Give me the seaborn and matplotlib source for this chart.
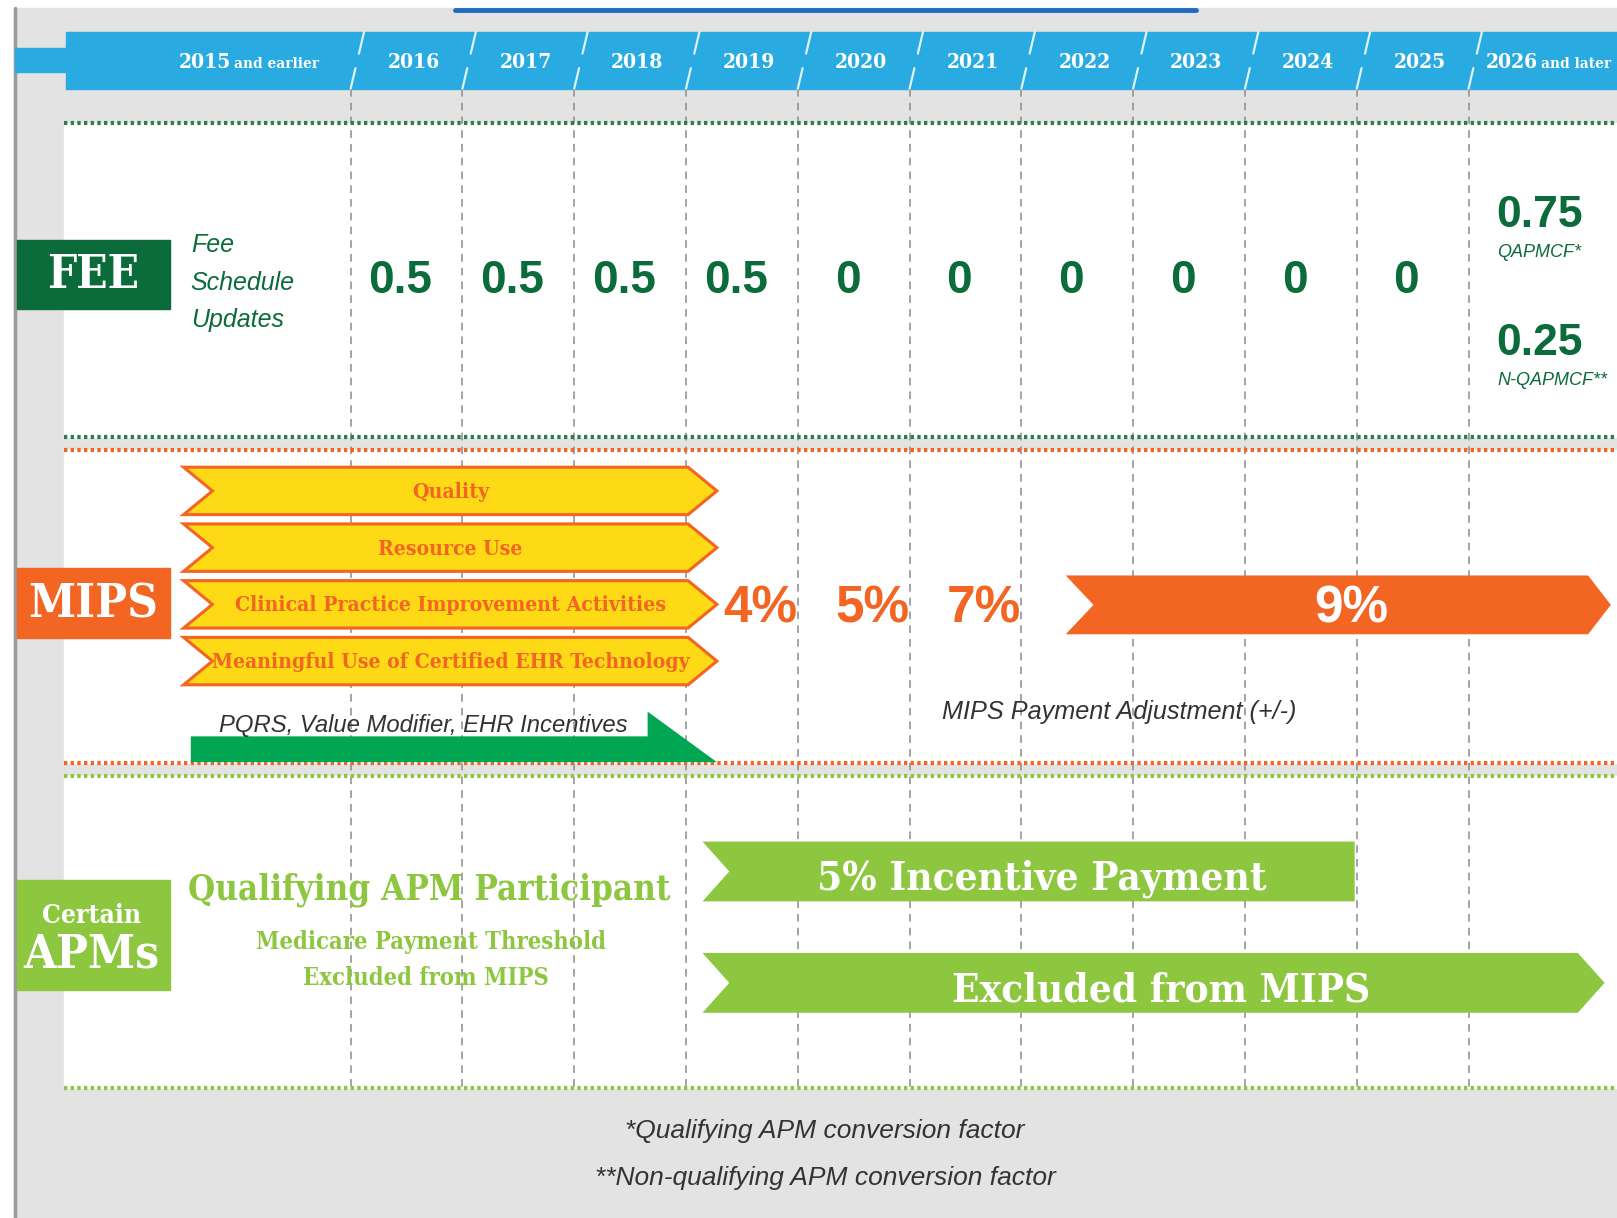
import matplotlib
matplotlib.use('Agg')
import matplotlib.pyplot as plt
from matplotlib import font_manager
from matplotlib.patches import Polygon, Rectangle
import seaborn as sns

years = ['2015', '2016', '2017', '2018', '2019', '2020', '2021', '2022', '2023', '2024', '2025', '2026']
year_suffix = {'2015': 'and earlier', '2026': 'and later'}
fee_values = [0.5, 0.5, 0.5, 0.5, 0, 0, 0, 0, 0, 0]          # 2016 .. 2025
fee_2026 = [0.75, 0.25]
fee_2026_notes = ['QAPMCF*', 'N-QAPMCF**']
mips_categories = ['Quality', 'Resource Use', 'Clinical Practice Improvement Activities',
                   'Meaningful Use of Certified EHR Technology']
mips_years = ['2019', '2020', '2021']
mips_pct = [4, 5, 7]
mips_max_pct = 9
legacy_label = 'PQRS, Value Modifier, EHR Incentives'
apm_lines = ['Qualifying APM Participant', 'Medicare Payment Threshold', 'Excluded from MIPS']
apm_incentive = '5% Incentive Payment'
apm_excluded = 'Excluded from MIPS'
footnotes = ['*Qualifying APM conversion factor', '**Non-qualifying APM conversion factor']

# colours
BLUE = '#29abe2'
DKGREEN = '#0b6b3a'
ORANGE = '#f26522'
YELLOW = '#fdd916'
LTGREEN = '#8dc63f'
GREEN = '#00a651'
DARK = '#333333'
BG = '#e3e3e3'

sns.set_theme(style='white')
names = {f.name for f in font_manager.fontManager.ttflist}
NARROW = 'Liberation Sans Narrow' if 'Liberation Sans Narrow' in names else 'Liberation Sans'
SLAB = 'DejaVu Serif Condensed' if 'DejaVu Serif Condensed' in names else 'DejaVu Serif'
plt.rcParams['font.family'] = [NARROW, 'DejaVu Sans']

W, H = 1568, 1181
fig = plt.figure(figsize=(16.17, 12.18), dpi=100)
ax = fig.add_axes([0, 0, 1, 1])
ax.set_xlim(0, W)
ax.set_ylim(H, 0)
ax.axis('off')

# column geometry (2016 starts at the first boundary)
first_edge, col_w = 340, 108.4


def col_left(i):
    return first_edge + (i - 1) * col_w


def col_center(i):
    return col_left(i) + col_w / 2


def txt(x, y, s, size, color, family=NARROW, weight='bold', style='normal', ha='center', va='baseline'):
    ax.text(x, y, s, fontsize=size, color=color, family=[family, 'DejaVu Sans'], weight=weight,
            style=style, ha=ha, va=va, fontstretch='condensed', zorder=6)


def dotted(y, color):
    ax.plot([62, W], [y, y], ls=(0, (0.8, 0.8)), lw=3, color=color, zorder=4, solid_capstyle='butt')


# background
ax.add_patch(Rectangle((14, 8), W - 14, H - 8, color=BG, zorder=0))
ax.plot([15, 15], [8, H], color='#9a9a9a', lw=2.5, zorder=1)
ax.plot([441, 1160], [9.5, 9.5], color='#1e6bbf', lw=3.5, zorder=1)

# header band
ax.add_patch(Rectangle((64, 31), W - 64, 55, color=BLUE, zorder=2))
ax.add_patch(Rectangle((15, 47), 50, 23, color=BLUE, zorder=2))

# panels
ax.add_patch(Rectangle((62, 119), W - 62, 305, color='white', zorder=1))
ax.add_patch(Rectangle((62, 436), W - 62, 304, color='white', zorder=1))
ax.add_patch(Rectangle((62, 752), W - 62, 303, color='white', zorder=1))
dotted(119, '#2e7d4f')
dotted(424, '#2e7d4f')
dotted(436, ORANGE)
dotted(740, ORANGE)
dotted(752, LTGREEN)
dotted(1055, LTGREEN)

# column separators
for i in range(1, len(years)):
    b = col_left(i)
    ax.plot([b, b], [86, 1055], color='#8c8c8c', lw=1.1, ls=(0, (5, 4)), zorder=3)
    for y0, y1 in [(86, 66), (52, 31)]:
        ax.plot([b + 13 * (86 - y0) / 55, b + 13 * (86 - y1) / 55], [y0, y1],
                color='#dff1fb', lw=1.6, zorder=3)

# year labels
for i, yr in enumerate(years):
    if yr in year_suffix:
        cx = 225 if i == 0 else 1492
        txt(cx - 1, 66, yr, 15, 'white', SLAB, ha='right')
        txt(cx + 2, 66, year_suffix[yr], 11, 'white', SLAB, ha='left')
    else:
        txt(col_center(i) + 7, 66, yr, 15, 'white', SLAB)

# ---- FEE row ----
ax.add_patch(Rectangle((16, 233), 149, 67, color=DKGREEN, zorder=2))
txt(90, 267, 'FEE', 33, 'white', SLAB, va='center')
for yy, s in zip([244, 281, 317], ['Fee', 'Schedule', 'Updates']):
    txt(185, yy, s, 18, DKGREEN, weight='normal', style='italic', ha='left')
for i, v in enumerate(fee_values, start=1):
    txt(col_center(i) - 6, 284, f'{v:g}', 33, DKGREEN)
for yy, v, note in zip([220, 344], fee_2026, fee_2026_notes):
    txt(1451, yy, f'{v:g}', 32, DKGREEN, ha='left')
    txt(1452, yy + 29, note, 13, DKGREEN, weight='normal', style='italic', ha='left')

# ---- MIPS row ----
ax.add_patch(Rectangle((16, 551), 149, 68, color=ORANGE, zorder=2))
txt(90, 586, 'MIPS', 34, 'white', SLAB, va='center')
for k, cat in enumerate(mips_categories):
    top = 453 + k * 55
    h = 46
    x0, x1 = 178, col_left(4) + 2
    pts = [(x0, top), (x1, top), (x1 + 28, top + h / 2), (x1, top + h), (x0, top + h), (x0 + 28, top + h / 2)]
    ax.add_patch(Polygon(pts, closed=True, facecolor=YELLOW, edgecolor=ORANGE, lw=2.2, zorder=4))
    txt(437, top + h / 2 + 1, cat, 15.2, ORANGE, SLAB, va='center')

pts = [(185, 714), (628, 714), (628, 690), (col_left(4) + 30, 739), (185, 739)]
ax.add_patch(Polygon(pts, closed=True, facecolor=GREEN, edgecolor='none', zorder=4))
txt(212, 710, legacy_label, 17.2, DARK, weight='normal', style='italic', ha='left')

for yr, p in zip(mips_years, mips_pct):
    i = years.index(yr)
    txt(col_center(i) + 18, 604, f'{p}%', 37, ORANGE)

x0, x1 = col_left(7) + 43, 1540
pts = [(x0, 558), (x1, 558), (x1 + 22, 586.5), (x1, 615), (x0, 615), (x0 + 27, 586.5)]
ax.add_patch(Polygon(pts, closed=True, facecolor=ORANGE, edgecolor='none', zorder=4))
txt(1310, 604, f'{mips_max_pct}%', 37, 'white')
txt(1085, 697, 'MIPS Payment Adjustment (+/-)', 18.2, DARK, weight='normal', style='italic')

# ---- APM row ----
ax.add_patch(Rectangle((16, 853), 149, 107, color=LTGREEN, zorder=2))
txt(89, 895, 'Certain', 19, 'white', SLAB)
txt(89, 938, 'APMs', 34, 'white', SLAB)
txt(416, 872, apm_lines[0], 25, LTGREEN, SLAB)
txt(418, 920, apm_lines[1], 17, LTGREEN, SLAB)
txt(413, 955, apm_lines[2], 17, LTGREEN, SLAB)

x0, x1 = col_left(4) + 16, col_left(10) - 2
pts = [(x0, 816), (x1, 816), (x1, 874), (x0, 874), (x0 + 26, 845)]
ax.add_patch(Polygon(pts, closed=True, facecolor=LTGREEN, edgecolor='none', zorder=4))
txt(1010, 862, apm_incentive, 29, 'white', SLAB)

x1 = 1530
pts = [(x0, 924), (x1, 924), (x1 + 26, 953), (x1, 982), (x0, 982), (x0 + 26, 953)]
ax.add_patch(Polygon(pts, closed=True, facecolor=LTGREEN, edgecolor='none', zorder=4))
txt(1126, 971, apm_excluded, 29, 'white', SLAB)

# footnotes
for yy, s in zip([1103, 1149], footnotes):
    txt(800, yy, s, 19, DARK, weight='normal', style='italic')

fig.savefig('out.png', dpi=100)
